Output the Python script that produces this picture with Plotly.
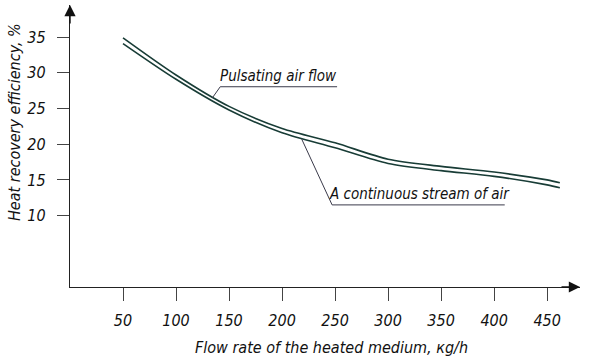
import plotly.graph_objects as go

# Data
flow = [50, 100, 150, 200, 250, 300, 350, 400, 450, 462]
pulsating = [34.9, 29.7, 25.3, 22.2, 20.2, 17.9, 16.9, 16.1, 15.0, 14.6]
continuous = [34.1, 29.1, 24.8, 21.6, 19.5, 17.3, 16.3, 15.5, 14.3, 13.9]

x_ticks = [50, 100, 150, 200, 250, 300, 350, 400, 450]
y_ticks = [10, 15, 20, 25, 30, 35]

FONT = "DejaVu Sans Condensed, Liberation Sans Narrow, sans-serif"
LINE = "#183c36"
AX = "#222222"

X_MAX = 481
Y_MAX = 39.5

fig = go.Figure()
fig.add_trace(go.Scatter(x=flow, y=pulsating, mode="lines", name="Pulsating air flow",
                         line=dict(color=LINE, width=1.6, shape="spline", smoothing=0.8)))
fig.add_trace(go.Scatter(x=flow, y=continuous, mode="lines", name="A continuous stream of air",
                         line=dict(color=LINE, width=1.6, shape="spline", smoothing=0.8)))

# leader lines for the labels
lead_color = "#3a3a4a"
fig.add_shape(type="path", xref="x", yref="y",
              path="M 134.3 26.5 L 141.7 28.05 L 251.9 28.05",
              line=dict(color=lead_color, width=1))
fig.add_shape(type="path", xref="x", yref="y",
              path="M 218.6 20.7 L 247.2 11.5 L 410 11.5",
              line=dict(color=lead_color, width=1))

fig.add_annotation(x=196.5, y=28.05, xref="x", yref="y", yanchor="bottom", yshift=0,
                   text="Pulsating air flow", showarrow=False,
                   font=dict(family=FONT, size=15, color="#111", style="italic"))
fig.add_annotation(x=329.5, y=11.5, xref="x", yref="y", yanchor="bottom", yshift=0,
                   text="A continuous stream of air", showarrow=False,
                   font=dict(family=FONT, size=15, color="#111", style="italic"))

# axis arrows
fig.add_annotation(x=0, y=Y_MAX, xref="x", yref="y", ax=0, ay=20, axref="pixel", ayref="pixel",
                   showarrow=True, arrowhead=2, arrowsize=1.6, arrowwidth=1.4, arrowcolor="#111", text="")
fig.add_annotation(x=X_MAX, y=0, xref="x", yref="y", ax=-20, ay=0,
                   showarrow=True, arrowhead=2, arrowsize=1.6, arrowwidth=1.4, arrowcolor="#111", text="")

W, H = 597, 359
ml, mr, mt, mb = 70, 17, 5, 72


def px_to_paper(px, py):
    return (px - ml) / (W - ml - mr), 1 - (py - mt) / (H - mt - mb)


# axis titles (positioned in pixels, converted to paper coordinates)
tx, ty = px_to_paper(14, 122)
fig.add_annotation(x=tx, y=ty, xref="paper", yref="paper", text="Heat recovery efficiency, %",
                   showarrow=False, textangle=-90, xanchor="center", yanchor="middle",
                   font=dict(family=FONT, size=16, color="#111", style="italic"))
tx, ty = px_to_paper(331, 347)
fig.add_annotation(x=tx, y=ty, xref="paper", yref="paper", text="Flow rate of the heated medium, кg/h",
                   showarrow=False, xanchor="center", yanchor="middle",
                   font=dict(family=FONT, size=16, color="#111", style="italic"))

fig.update_xaxes(range=[0, X_MAX], tickvals=x_ticks, showgrid=False, zeroline=False,
                 showline=True, linecolor=AX, linewidth=1.3, automargin=False,
                 ticks="outside", ticklen=13, tickwidth=1.2, tickcolor="#444",
                 ticklabelstandoff=6,
                 tickfont=dict(family=FONT, size=16, color="#111", style="italic"))
fig.update_yaxes(range=[0, Y_MAX], tickvals=y_ticks, showgrid=False, zeroline=False,
                 showline=True, linecolor=AX, linewidth=1.3, automargin=False,
                 ticks="outside", ticklen=12, tickwidth=1.2, tickcolor="#444",
                 ticklabelstandoff=8,
                 tickfont=dict(family=FONT, size=16, color="#111", style="italic"))

fig.update_layout(width=W, height=H, margin=dict(l=ml, r=mr, t=mt, b=mb, autoexpand=False),
                  paper_bgcolor="white", plot_bgcolor="white", showlegend=False)

fig.write_html("out.html", config={"displayModeBar": False},
               post_script="document.body.style.margin='0';")
